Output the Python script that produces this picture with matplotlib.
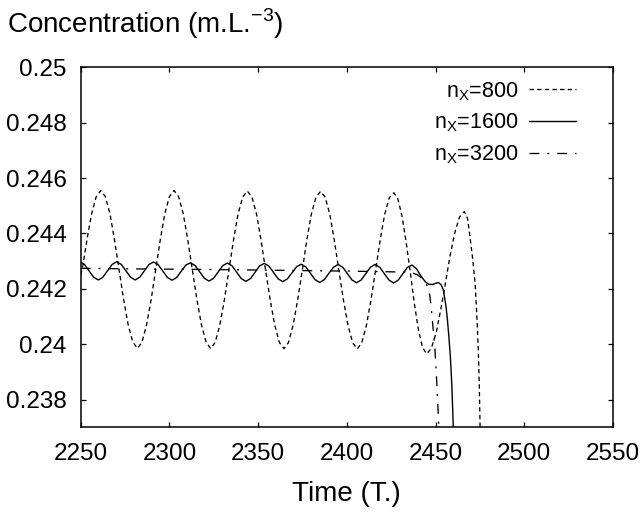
import matplotlib
matplotlib.use("Agg")
import matplotlib.pyplot as plt

plt.rcParams['font.family'] = ['Liberation Sans', 'DejaVu Sans']
plt.rcParams['font.size'] = 17.5

# n_x = 800 (dashed)
t800 = [2250.0, 2251.0, 2253.6, 2256.1, 2258.7,
        2261.3, 2263.9, 2266.5, 2269.0, 2271.6, 2274.2, 2276.8, 2279.4,
        2282.0, 2284.5, 2287.1, 2289.7, 2292.3, 2294.9, 2297.4, 2300.0,
        2302.6, 2305.2, 2307.8, 2310.3, 2312.9, 2315.5, 2318.1, 2320.7,
        2323.3, 2325.8, 2328.4, 2331.0, 2333.6, 2336.2, 2338.7, 2341.3,
        2343.9, 2346.5, 2349.1, 2351.6, 2354.2, 2356.8, 2359.4, 2362.0,
        2364.6, 2367.1, 2369.7, 2372.3, 2374.9, 2377.5, 2380.0, 2382.6,
        2385.2, 2387.8, 2390.4, 2392.9, 2395.5, 2398.1, 2400.7, 2403.3,
        2405.9, 2408.4, 2411.0, 2413.6, 2416.2, 2418.8, 2421.3, 2423.9,
        2426.5, 2428.8, 2431.1, 2433.4, 2435.8, 2438.1, 2440.4, 2442.7,
        2445.0, 2447.6, 2450.3, 2452.9, 2455.6, 2458.2, 2460.9, 2463.5,
        2466.2, 2468.0, 2469.4, 2470.9, 2472.3, 2473.3, 2474.1, 2474.7,
        2475.1, 2475.4]
c800 = [0.24250, 0.24275, 0.24380, 0.24470, 0.24532,
        0.24555, 0.24533, 0.24471, 0.24379, 0.24270, 0.24161, 0.24069, 0.24007,
        0.23985, 0.24007, 0.24069, 0.24161, 0.24270, 0.24379, 0.24471, 0.24533,
        0.24555, 0.24533, 0.24471, 0.24379, 0.24270, 0.24161, 0.24069, 0.24007,
        0.23984, 0.24007, 0.24069, 0.24161, 0.24270, 0.24379, 0.24470, 0.24532,
        0.24553, 0.24532, 0.24470, 0.24378, 0.24268, 0.24160, 0.24068, 0.24006,
        0.23984, 0.24006, 0.24068, 0.24160, 0.24268, 0.24378, 0.24470, 0.24531,
        0.24552, 0.24531, 0.24469, 0.24377, 0.24267, 0.24159, 0.24067, 0.24005,
        0.23983, 0.24005, 0.24067, 0.24159, 0.24267, 0.24377, 0.24468, 0.24529,
        0.24547, 0.24524, 0.24462, 0.24370, 0.24258, 0.24145, 0.24050, 0.23988,
        0.23965, 0.23985, 0.24040, 0.24124, 0.24222, 0.24320, 0.24404, 0.24459,
        0.24479, 0.24455, 0.24388, 0.24310, 0.24220, 0.24100, 0.23979, 0.23840,
        0.23700, 0.23600]

# n_x = 1600 (solid)
t1600 = [2250.0, 2252.1, 2254.7, 2257.3, 2259.9, 2262.5, 2265.1, 2267.7,
         2270.3, 2272.9, 2275.5, 2278.1, 2280.7, 2283.3, 2285.9, 2288.5,
         2291.1, 2293.7, 2296.3, 2298.9, 2301.5, 2304.1, 2306.7, 2309.3,
         2311.9, 2314.5, 2317.1, 2319.7, 2322.3, 2324.9, 2327.5, 2330.1,
         2332.7, 2335.3, 2337.9, 2340.5, 2343.1, 2345.7, 2348.3, 2350.9,
         2353.5, 2356.1, 2358.7, 2361.3, 2363.9, 2366.5, 2369.1, 2371.7,
         2374.3, 2376.9, 2379.5, 2382.1, 2384.7, 2387.3, 2389.9, 2392.5,
         2395.1, 2397.7, 2400.3, 2402.9, 2405.5, 2408.1, 2410.7, 2413.3,
         2415.9, 2418.5, 2421.1, 2423.7, 2426.3, 2428.9, 2431.5, 2434.1,
         2436.7, 2439.3, 2441.9, 2444.3, 2446.3, 2448.5, 2450.5, 2451.8,
         2453.2, 2454.4, 2455.9, 2456.7, 2457.6, 2458.4, 2459.2, 2460.0,
         2460.4]
c1600 = [0.24297, 0.24288, 0.24265, 0.24242, 0.24232, 0.24242, 0.24265, 0.24288,
         0.24298, 0.24288, 0.24265, 0.24242, 0.24232, 0.24242, 0.24265, 0.24288,
         0.24297, 0.24287, 0.24264, 0.24241, 0.24231, 0.24241, 0.24264, 0.24286,
         0.24294, 0.24284, 0.24261, 0.24238, 0.24228, 0.24238, 0.24261, 0.24284,
         0.24293, 0.24283, 0.24260, 0.24237, 0.24227, 0.24237, 0.24260, 0.24283,
         0.24292, 0.24282, 0.24259, 0.24236, 0.24226, 0.24236, 0.24258, 0.24280,
         0.24289, 0.24279, 0.24256, 0.24233, 0.24223, 0.24233, 0.24256, 0.24278,
         0.24288, 0.24278, 0.24255, 0.24232, 0.24222, 0.24232, 0.24255, 0.24278,
         0.24288, 0.24278, 0.24255, 0.24232, 0.24221, 0.24231, 0.24254, 0.24277,
         0.24286, 0.24272, 0.24245, 0.24225, 0.24216, 0.24216, 0.24221, 0.24222,
         0.24214, 0.24196, 0.24136, 0.24088, 0.24020, 0.23950, 0.23850, 0.23700,
         0.23620]

# n_x = 3200 (dash-dot)
t3200 = [2250.0, 2280.0, 2320.0, 2360.0, 2400.0, 2420.0, 2436.0, 2440.0,
         2443.0, 2445.0, 2446.3, 2447.3, 2448.3, 2449.7, 2450.7, 2451.6, 2452.2]
c3200 = [0.24274, 0.24272, 0.24270, 0.24267, 0.24264, 0.24262, 0.24260, 0.24250,
         0.24234, 0.24214, 0.24196, 0.24148, 0.24080, 0.23979, 0.23860, 0.23740,
         0.23650]

xticks = [2250, 2300, 2350, 2400, 2450, 2500, 2550]
yticks = [0.238, 0.24, 0.242, 0.244, 0.246, 0.248, 0.25]
ylabels = ["0.238", "0.24", "0.242", "0.244", "0.246", "0.248", "0.25"]

fig = plt.figure(figsize=(6.43, 5.13), dpi=100)
ax = fig.add_axes([0.1255, 0.1671, 0.8278, 0.7017])

ax.plot(t800, c800, color="black", lw=0.95, dashes=(3.3, 2.5),
        label=r"n$_{\mathregular{X}}$=800")
ax.plot(t1600, c1600, color="black", lw=1.0,
        label=r"n$_{\mathregular{X}}$=1600")
ax.plot(t3200, c3200, color="black", lw=0.95, dashes=(7.5, 6, 1.5, 6),
        label=r"n$_{\mathregular{X}}$=3200")

ax.set_xlim(2250, 2550)
ax.set_ylim(0.237, 0.25)
ax.set_xticks(xticks)
ax.set_yticks(yticks)
ax.set_yticklabels(ylabels)
ax.tick_params(direction="in", length=3.6, width=0.9, top=True, right=True,
               labelsize=17.5)
ax.tick_params(axis="x", pad=11)
ax.tick_params(axis="y", pad=10)
for s in ax.spines.values():
    s.set_linewidth(1.1)

ax.set_xlabel("Time (T.)", fontsize=20, labelpad=12)
fig.text(7 / 643, 1 - 32.7 / 513, r"Concentration (m.L.$^{\mathregular{-3}}$)",
         fontsize=20, va="baseline", ha="left")

ax.legend(loc="upper right", bbox_to_anchor=(0.9305, 0.965), frameon=False,
          markerfirst=False, handlelength=2.2, handletextpad=0.47,
          labelspacing=0.42, borderpad=0, borderaxespad=0, fontsize=15.5)

fig.savefig("out.png", dpi=100)
